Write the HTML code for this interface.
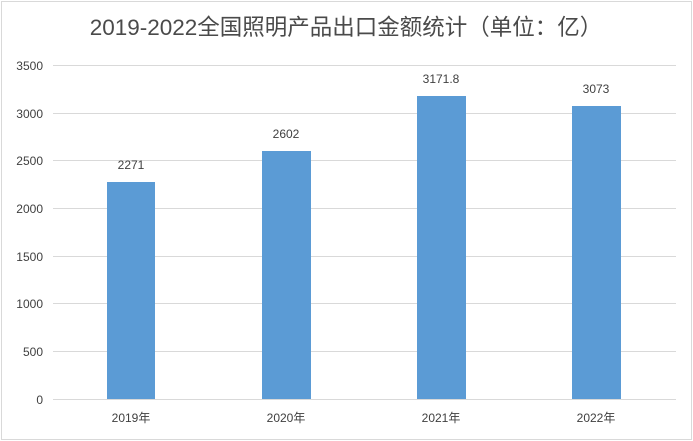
<!DOCTYPE html>
<html><head><meta charset="utf-8"><style>
body{margin:0;background:#fff}
svg{display:block}
text{font-family:"Liberation Sans","Noto Sans CJK SC",sans-serif;fill:#404040}
</style></head><body>
<svg width="693" height="441" viewBox="0 0 693 441">
<rect x="1.5" y="1.5" width="690" height="438" fill="#fff" stroke="#d9d9d9"/>
<text x="346" y="35" font-size="22.5" text-anchor="middle" style="fill:#4a4a4a">2019-2022全国照明产品出口金额统计（单位：亿）</text>
<g stroke="#d9d9d9" stroke-width="1">
<line x1="53" x2="676" y1="65.5" y2="65.5"/>
<line x1="53" x2="676" y1="113.5" y2="113.5"/>
<line x1="53" x2="676" y1="160.5" y2="160.5"/>
<line x1="53" x2="676" y1="208.5" y2="208.5"/>
<line x1="53" x2="676" y1="256.5" y2="256.5"/>
<line x1="53" x2="676" y1="303.5" y2="303.5"/>
<line x1="53" x2="676" y1="351.5" y2="351.5"/>
<line x1="53" x2="676" y1="399.5" y2="399.5"/>
</g>
<g font-size="12" text-anchor="end">
<text x="43" y="70">3500</text>
<text x="43" y="118">3000</text>
<text x="43" y="165">2500</text>
<text x="43" y="213">2000</text>
<text x="43" y="261">1500</text>
<text x="43" y="308">1000</text>
<text x="43" y="356">500</text>
<text x="43" y="404">0</text>
</g>
<g fill="#5b9bd5">
<rect x="107" y="182" width="48" height="217"/>
<rect x="262" y="151" width="49" height="248"/>
<rect x="417" y="96" width="49" height="303"/>
<rect x="572" y="106" width="49" height="293"/>
</g>
<g font-size="12" text-anchor="middle">
<text x="131" y="169">2271</text>
<text x="286" y="138">2602</text>
<text x="441" y="83">3171.8</text>
<text x="596" y="93">3073</text>
<text x="131" y="422">2019年</text>
<text x="286" y="422">2020年</text>
<text x="441" y="422">2021年</text>
<text x="596" y="422">2022年</text>
</g>
</svg>
</body></html>
